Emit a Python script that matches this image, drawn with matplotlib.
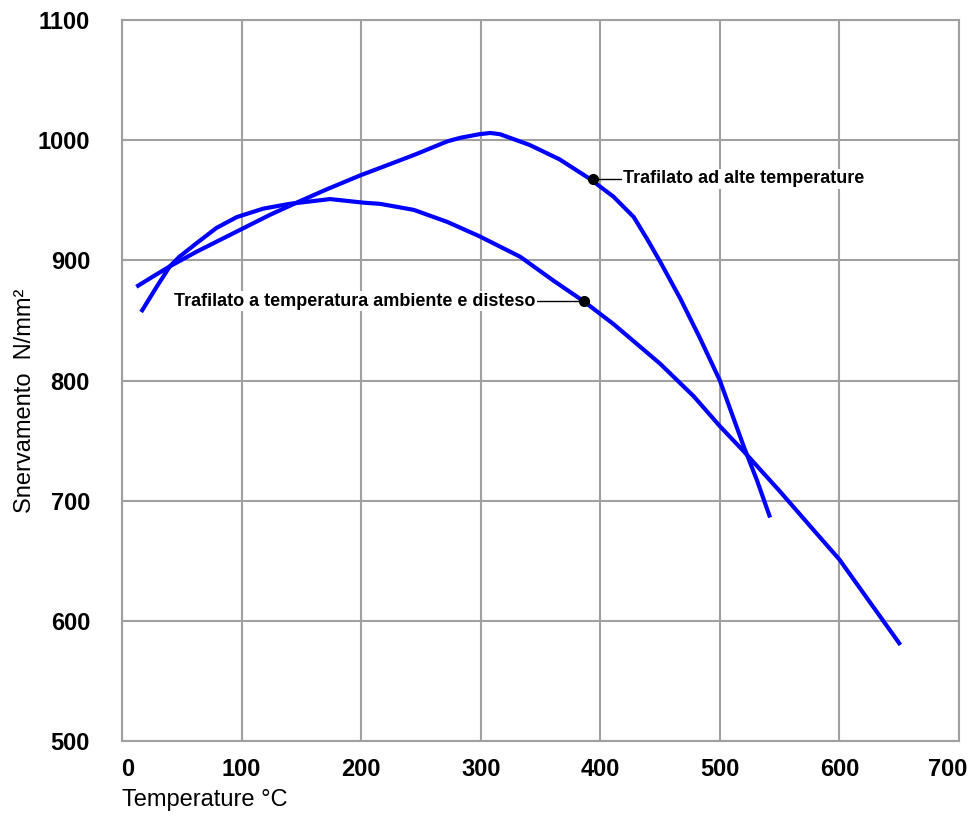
import matplotlib
matplotlib.use('Agg')
import matplotlib.pyplot as plt
from matplotlib import font_manager as fm
from matplotlib.transforms import ScaledTranslation

# curve: drawn at high temperature
alte_t = [12, 25, 40, 62, 96, 124, 146, 171, 200, 216, 245, 272, 283, 299, 308, 316, 341, 366,
          391, 411, 428, 439, 450, 467, 483, 500, 520, 531, 542]
alte_s = [878, 886, 895, 907, 924, 938, 948, 959, 971, 977, 988, 999, 1002, 1005, 1006, 1005, 996, 984,
          968, 953, 936, 918, 899, 868, 836, 800, 745, 717, 686]

# drawn at room temperature and stretched
amb_t = [16, 29, 40, 48, 62, 79, 96, 118, 140, 174, 202, 216, 244, 272, 299, 333, 361, 386,
         411, 450, 478, 500, 520, 550, 578, 600, 628, 651]
amb_s = [857, 878, 895, 903, 914, 927, 936, 943, 947, 951, 948, 947, 942, 932, 920, 903, 883, 866,
         847, 814, 787, 762, 741, 708, 676, 651, 612, 580]

xticks = [0, 100, 200, 300, 400, 500, 600, 700]
yticks = [500, 600, 700, 800, 900, 1000, 1100]

label_alte = 'Trafilato ad alte temperature'
label_amb = 'Trafilato a temperatura ambiente e disteso'
dot_alte = (394, 968)
dot_amb = (386, 866)


def pick(names):
    for n in names:
        try:
            fm.findfont(fm.FontProperties(family=n), fallback_to_default=False)
            return n
        except Exception:
            pass
    return 'DejaVu Sans'


font = pick(['Liberation Sans Narrow', 'Arial Narrow', 'Liberation Sans', 'Arial'])
plt.rcParams['font.family'] = [font, 'DejaVu Sans']

grey = '#a0a0a0'
blue = '#0000ff'

fig = plt.figure(figsize=(9.76, 8.17), dpi=100)
ax = fig.add_axes([0.125, 0.093, 0.8576, 0.8825])

ax.plot(alte_t, alte_s, color=blue, lw=3, solid_capstyle='butt', solid_joinstyle='round', zorder=3)
ax.plot(amb_t, amb_s, color=blue, lw=3, solid_capstyle='butt', solid_joinstyle='round', zorder=3)

ax.set_xlim(0, 700)
ax.set_ylim(500, 1100)
ax.set_xticks(xticks)
ax.set_yticks(yticks)
ax.grid(True, color=grey, lw=1.5)
ax.set_axisbelow(True)
for s in ax.spines.values():
    s.set_color(grey)
    s.set_linewidth(1.5)
ax.tick_params(length=0)
ax.tick_params(axis='y', pad=23)
ax.tick_params(axis='x', pad=12)
for lab in ax.get_xticklabels() + ax.get_yticklabels():
    lab.set_fontsize(17)
    lab.set_fontweight('bold')
# nudge the first and last x labels as in the original
xl = ax.get_xticklabels()
xl[0].set_transform(xl[0].get_transform() + ScaledTranslation(4 / 72, 0, fig.dpi_scale_trans))
xl[-1].set_transform(xl[-1].get_transform() + ScaledTranslation(-8 / 72, 0, fig.dpi_scale_trans))

ax.set_xlabel('Temperature °C', fontsize=17, loc='left', va='center')
ax.xaxis.set_label_coords(0, -0.082)
ax.set_ylabel('Snervamento  N/mm²', fontsize=17, va='center')
ax.yaxis.set_label_coords(-0.116, 0.4716)

# annotations with leader lines
ax.plot([dot_alte[0], 418], [dot_alte[1], dot_alte[1]], color='black', lw=1, zorder=4)
ax.plot(*dot_alte, 'o', color='black', ms=7, zorder=5)
ax.text(419, dot_alte[1], label_alte, fontsize=13, fontweight='bold', ha='left', va='center',
        bbox=dict(facecolor='white', edgecolor='none', pad=1), zorder=4)

ax.plot([347, dot_amb[0]], [dot_amb[1], dot_amb[1]], color='black', lw=1, zorder=4)
ax.plot(*dot_amb, 'o', color='black', ms=7, zorder=5)
ax.text(346, dot_amb[1], label_amb, fontsize=13, fontweight='bold', ha='right', va='center',
        bbox=dict(facecolor='white', edgecolor='none', pad=1), zorder=4)

fig.savefig('out.png', dpi=100)
